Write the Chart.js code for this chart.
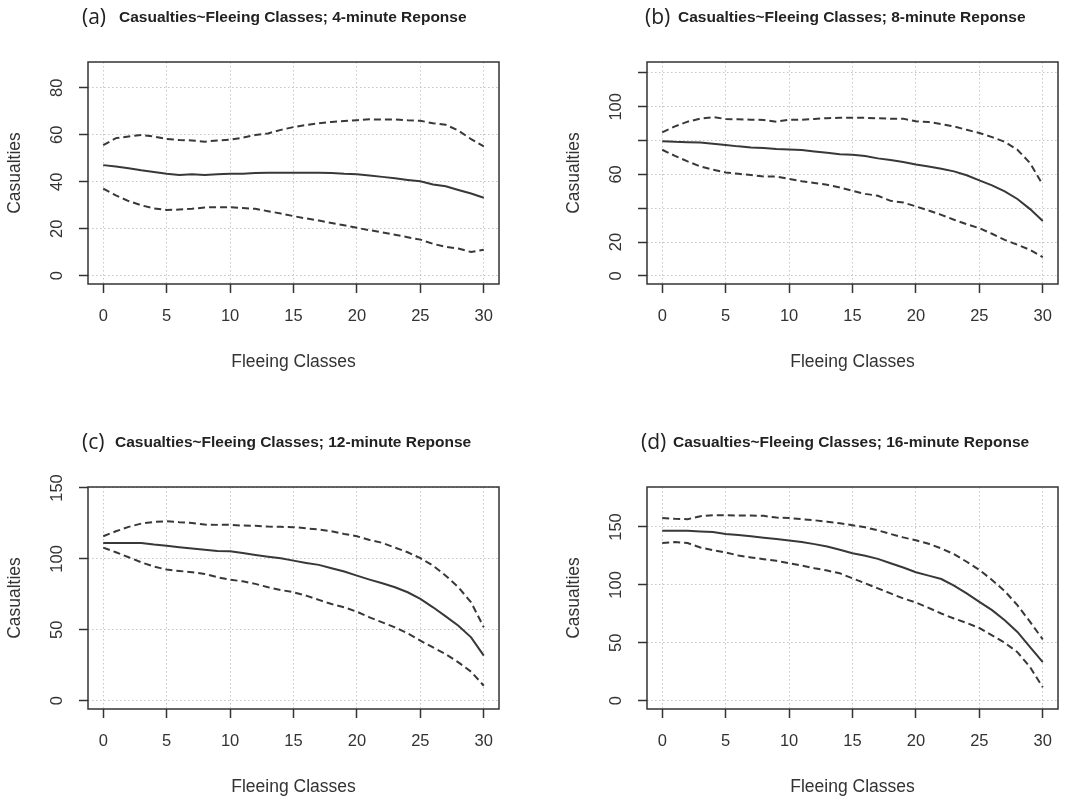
<!DOCTYPE html>
<html>
<head>
<meta charset="utf-8">
<script src="https://cdn.jsdelivr.net/npm/chart.js@4.4.1/dist/chart.umd.min.js"></script>
<style>
  body { margin: 0; background: #fff; overflow: hidden; }
  canvas { position: absolute; }
</style>
</head>
<body>
<canvas id="chartA" width="519" height="400" style="left:0px;top:0px"></canvas>
<canvas id="chartB" width="519" height="400" style="left:559px;top:0px"></canvas>
<canvas id="chartC" width="519" height="400" style="left:0px;top:425px"></canvas>
<canvas id="chartD" width="519" height="400" style="left:559px;top:425px"></canvas>
<script>
const classes = [0,1,2,3,4,5,6,7,8,9,10,11,12,13,14,15,16,17,18,19,20,21,22,23,24,25,26,27,28,29,30];
const xTicks = [0,5,10,15,20,25,30];

// (a) 4-minute response
const upperA = [55.6,58.6,59.3,59.9,59.3,58.2,57.8,57.6,57.1,57.6,57.9,58.8,59.9,60.6,62.1,63.3,64.2,64.9,65.5,65.9,66.2,66.6,66.5,66.6,66.2,66.0,64.9,64.3,61.8,58.2,55.1];
const meanA  = [47.1,46.5,45.8,44.9,44.2,43.4,42.9,43.2,42.9,43.2,43.4,43.4,43.8,43.9,43.9,43.9,43.9,43.9,43.8,43.4,43.2,42.7,42.1,41.5,40.8,40.2,38.9,38.1,36.5,35.0,33.2];
const lowerA = [37.1,34.2,31.8,30.0,28.7,28.0,28.2,28.5,29.1,29.2,29.2,28.8,28.5,27.5,26.5,25.4,24.4,23.5,22.5,21.5,20.4,19.4,18.5,17.5,16.4,15.4,13.6,12.3,11.6,10.1,11.1];
const yTicksA = [0,20,40,60,80];
const yLabelsA = [0,20,40,60,80];

// (b) 8-minute response
const upperB = [84.9,88.4,91.2,93.0,93.9,92.8,92.6,92.4,92.2,91.2,92.4,92.4,92.8,93.3,93.5,93.5,93.5,93.2,93.0,93.0,91.4,91.0,89.8,88.4,86.4,84.5,82.1,79.3,74.6,66.7,53.9];
const meanB  = [79.7,79.3,79.1,78.9,78.2,77.4,76.6,76.0,75.6,75.0,74.8,74.4,73.6,72.8,72.0,71.6,70.9,69.5,68.5,67.3,65.9,64.7,63.4,61.8,59.5,56.5,53.5,50.0,45.5,39.5,32.5];
const lowerB = [74.6,71.0,67.7,64.7,62.8,61.2,60.4,59.6,58.8,58.8,57.4,56.0,54.9,53.9,52.3,50.3,48.5,47.4,44.4,43.4,41.1,38.7,36.1,33.2,30.6,28.2,24.9,21.3,18.4,15.4,11.1];
const yTicksB = [0,20,40,60,80,100,120];
const yLabelsB = [0,20,60,100];

// (c) 12-minute response
const upperC = [116.0,119.5,122.6,124.9,126.1,126.6,125.9,125.4,124.2,124.0,124.0,123.5,123.3,122.8,122.6,122.4,121.6,120.7,119.5,117.6,116.0,113.4,111.3,108.0,104.7,100.5,95.3,88.2,80.0,69.4,51.8];
const meanC  = [111.3,111.3,111.3,111.3,110.1,109.2,108.2,107.3,106.4,105.6,105.4,104.2,102.8,101.6,100.5,98.8,97.2,95.8,93.4,91.1,88.2,85.4,82.8,80.0,76.5,71.8,65.9,59.5,52.9,44.7,31.8];
const lowerC = [108.0,104.7,101.2,97.6,94.6,92.5,91.5,90.6,89.4,87.1,85.4,84.2,82.4,80.0,78.1,76.5,74.1,71.1,68.2,65.9,62.8,58.8,55.3,51.8,47.5,42.4,37.6,32.9,27.1,20.5,10.6];
const yTicksC = [0,50,100,150];
const yLabelsC = [0,50,100,150];

// (d) 16-minute response
const upperD = [157.8,157.0,156.7,159.3,160.2,160.2,159.9,159.9,159.6,158.1,157.8,156.7,155.8,154.6,153.2,151.5,149.7,147.1,144.0,141.0,138.5,135.5,131.5,126.5,120.0,112.9,104.3,94.7,82.5,68.1,53.0];
const meanD  = [146.8,146.8,146.8,146.2,145.7,143.9,143.1,141.9,140.7,139.6,138.4,137.0,135.2,133.2,130.3,127.4,125.1,122.5,118.7,115.0,110.9,108.0,105.1,99.3,92.7,85.4,78.2,69.5,59.4,46.3,33.3];
const lowerD = [136.1,137.0,136.1,132.3,130.0,128.0,125.4,123.7,122.2,120.8,118.7,116.7,114.4,112.4,110.0,105.7,101.4,97.0,92.7,88.3,84.9,80.2,75.3,71.0,67.2,62.8,56.5,50.1,42.0,29.0,11.6];
const yTicksD = [0,50,100,150];
const yLabelsD = [0,50,100,150];

const sans = '"Liberation Sans", Arial, sans-serif';
const ink = '#333333';

// box around plot area, rotated y tick labels and the panel heading
const panelDecor = {
  id: 'panelDecor',
  afterDraw(chart, args, opts) {
    const {ctx, chartArea: a} = chart;
    const y = chart.scales.y;
    ctx.save();
    ctx.strokeStyle = ink;
    ctx.lineWidth = 1.5;
    ctx.strokeRect(a.left, a.top, a.right - a.left, a.bottom - a.top);

    ctx.fillStyle = ink;
    ctx.font = '16.5px ' + sans;
    ctx.textAlign = 'center';
    ctx.textBaseline = 'middle';
    opts.yLabels.forEach(v => {
      ctx.save();
      ctx.translate(a.left - 31, y.getPixelForValue(v));
      ctx.rotate(-Math.PI / 2);
      ctx.fillText(String(v), 0, 0);
      ctx.restore();
    });

    ctx.textAlign = 'left';
    ctx.fillStyle = '#222';
    ctx.font = '21px "Open Sans", sans-serif';
    ctx.fillText(opts.tag, opts.tagX, 18);
    ctx.font = 'bold 15.5px ' + sans;
    ctx.fillText(opts.heading, opts.headingX, 18);
    ctx.restore();
  }
};

function series(values, dash) {
  return {
    data: classes.map((c, i) => ({x: c, y: values[i]})),
    borderColor: '#383838',
    borderWidth: 2,
    borderDash: dash,
    pointRadius: 0,
    tension: 0,
    fill: false
  };
}

function makePanel(id, p) {
  const grid = {color: '#c6c6c6', lineWidth: 1, tickLength: 9, tickColor: ink, tickWidth: 1.5};
  const border = {display: false, dash: [1.5, 2.5]};
  return new Chart(document.getElementById(id), {
    type: 'line',
    data: {
      datasets: [series(p.upper, [7, 4]), series(p.mean, []), series(p.lower, [7, 4])]
    },
    options: {
      responsive: false,
      animation: false,
      devicePixelRatio: 1,
      layout: {padding: {top: 62, right: 20, left: 0, bottom: 0}},
      plugins: {
        legend: {display: false},
        tooltip: {enabled: false},
        panelDecor: {yLabels: p.yLabels, tag: p.tag, tagX: p.tagX, heading: p.heading, headingX: p.headingX}
      },
      scales: {
        x: {
          type: 'linear',
          min: -1.2,
          max: 31.2,
          afterBuildTicks: s => { s.ticks = xTicks.map(v => ({value: v})); },
          afterFit: s => { s.height = 116; },
          grid: grid,
          border: border,
          ticks: {color: ink, font: {size: 16.5, family: sans}, padding: 14, maxRotation: 0, autoSkip: false},
          title: {display: true, text: 'Fleeing Classes', color: ink, font: {size: 17.5, family: sans}, padding: {top: 0, bottom: 27.5}}
        },
        y: {
          min: p.yMin,
          max: p.yMax,
          afterBuildTicks: s => { s.ticks = p.yTicks.map(v => ({value: v})); },
          afterFit: s => { s.width = 88; },
          grid: grid,
          border: border,
          ticks: {display: false},
          title: {display: true, text: 'Casualties', color: ink, font: {size: 17.5, family: sans}, padding: {top: 4.5, bottom: 0}}
        }
      }
    },
    plugins: [panelDecor]
  });
}

makePanel('chartA', {upper: upperA, mean: meanA, lower: lowerA, yMin: -3.5, yMax: 91, yTicks: yTicksA, yLabels: yLabelsA,
  tag: '(a)', tagX: 82, heading: 'Casualties~Fleeing Classes; 4-minute Reponse', headingX: 119});
makePanel('chartB', {upper: upperB, mean: meanB, lower: lowerB, yMin: -4.8, yMax: 126.5, yTicks: yTicksB, yLabels: yLabelsB,
  tag: '(b)', tagX: 86, heading: 'Casualties~Fleeing Classes; 8-minute Reponse', headingX: 119});
makePanel('chartC', {upper: upperC, mean: meanC, lower: lowerC, yMin: -5.8, yMax: 150.7, yTicks: yTicksC, yLabels: yLabelsC,
  tag: '(c)', tagX: 82, heading: 'Casualties~Fleeing Classes; 12-minute Reponse', headingX: 115});
makePanel('chartD', {upper: upperD, mean: meanD, lower: lowerD, yMin: -7.1, yMax: 184.5, yTicks: yTicksD, yLabels: yLabelsD,
  tag: '(d)', tagX: 82, heading: 'Casualties~Fleeing Classes; 16-minute Reponse', headingX: 114});
</script>
</body>
</html>
